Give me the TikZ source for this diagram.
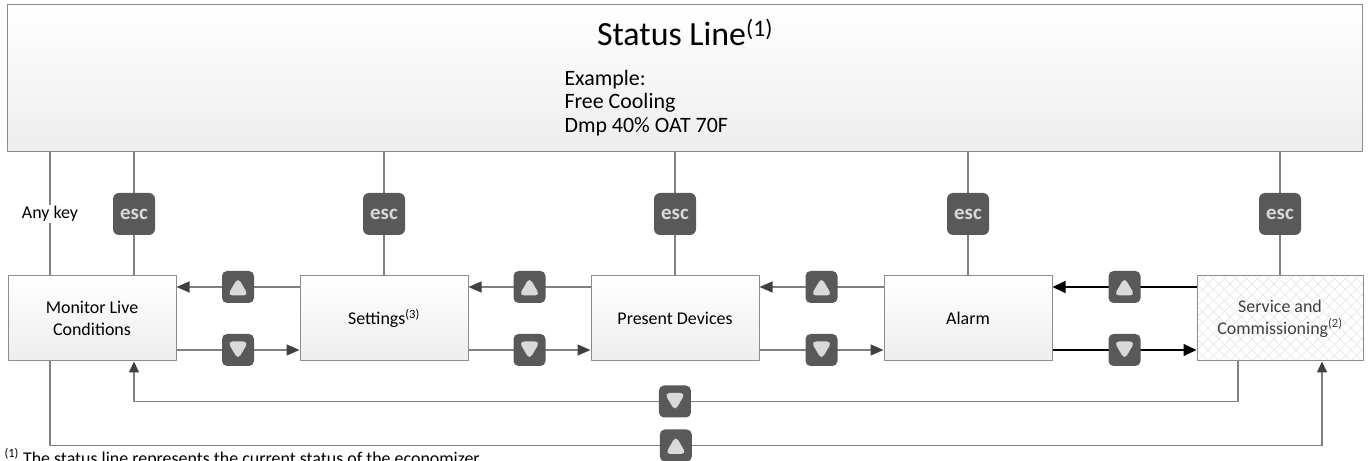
\documentclass[tikz,border=0pt]{standalone}
\usepackage{fontspec}
\setmainfont{Carlito}
\usetikzlibrary{arrows.meta}
\definecolor{btngray}{HTML}{595959}
\definecolor{btnlight}{HTML}{D9D9D9}
\definecolor{linegray}{HTML}{808080}
\definecolor{boxline}{HTML}{8C8C8C}
\definecolor{tipgray}{HTML}{404040}
\definecolor{boxshade}{HTML}{EDEDED}
\definecolor{hatchgray}{HTML}{E4E4E4}
\definecolor{svctext}{HTML}{404040}
\tikzset{
  boxbase/.style={draw=boxline, line width=1bp, minimum width=168bp, minimum height=85bp,
    inner sep=0pt, align=center, font=\fontsize{18}{22}\selectfont},
  menubox/.style={boxbase, top color=white, bottom color=boxshade},
  svcbox/.style={boxbase, fill=white, minimum width=166bp, text=svctext,
    path picture={
      \foreach \k in {-8,...,23} {
        \draw[hatchgray, line width=0.6bp] ([xshift=\k*11bp]path picture bounding box.south west) -- ++(95bp,95bp);
        \draw[hatchgray, line width=0.6bp] ([xshift=\k*11bp]path picture bounding box.south west) -- ++(-95bp,95bp);
      }}},
  keybtn/.style={fill=btngray, rounded corners=6bp, minimum width=42bp, minimum height=42bp,
    inner sep=0pt, text=btnlight, font=\fontsize{21}{21}\bfseries\selectfont},
  arrowbtn/.style={fill=btngray, rounded corners=5bp, minimum width=32bp, minimum height=32bp, inner sep=0pt},
  upbtn/.style={arrowbtn, path picture={
      \fill[btnlight] ([shift={(-10.5bp,-8.5bp)}]path picture bounding box.center) -- ++(21bp,0) -- ++(-10.5bp,18bp) -- cycle;}},
  dnbtn/.style={arrowbtn, path picture={
      \fill[btnlight] ([shift={(-10.5bp,8.5bp)}]path picture bounding box.center) -- ++(21bp,0) -- ++(-10.5bp,-18bp) -- cycle;}},
  link/.style={draw=linegray, line width=1.5bp},
  flow/.style={link, -{Triangle[length=13bp,width=11bp,color=tipgray]}},
  darkflow/.style={draw=black, line width=1.2bp, -{Triangle[length=13bp,width=12bp]}},
  loopflow/.style={link, -{Triangle[length=11bp,width=10bp,color=tipgray]}},
}
\begin{document}
\begin{tikzpicture}[line join=bevel]
\useasboundingbox (0bp,0bp) rectangle (1370bp,461bp);
%%
\node (status) at (684.5bp,382.5bp) [draw=boxline,line width=1bp,top color=white,bottom color=boxshade,
  minimum width=1355bp,minimum height=147bp,inner sep=0pt] {};
\node (title) at (685bp,429bp) [font=\fontsize{34}{38}\selectfont] {Status Line\textsuperscript{(1)}};
\node (example) at (561bp,358bp) [anchor=west,align=left,font=\fontsize{22}{23.5}\selectfont]
  {Example:\\Free Cooling\\Dmp 40\% OAT 70F};
%
\node (mon) at (92bp,142.5bp) [menubox] {Monitor Live\\Conditions};
\node (set) at (384bp,142.5bp) [menubox] {Settings\textsuperscript{(3)}};
\node (pres) at (675bp,142.5bp) [menubox] {Present Devices};
\node (alarm) at (968bp,142.5bp) [menubox] {Alarm};
\node (svc) at (1280bp,142.5bp) [svcbox] {Service and\\Commissioning\textsuperscript{(2)}};
%
\draw [link] ([xshift=-42bp]mon.north) -- node [fill=white,inner sep=1bp,font=\fontsize{18}{22}\selectfont] (anykey) {Any key} ([xshift=-42bp]mon.north |- status.south);
\draw [link] ([xshift=42bp]mon.north) -- node [keybtn] (esc1) {esc} ([xshift=42bp]mon.north |- status.south);
\draw [link] (set.north) -- node [keybtn] (esc2) {esc} (set.north |- status.south);
\draw [link] (pres.north) -- node [keybtn] (esc3) {esc} (pres.north |- status.south);
\draw [link] (alarm.north) -- node [keybtn] (esc4) {esc} (alarm.north |- status.south);
\draw [link] (svc.north) -- node [keybtn] (esc5) {esc} (svc.north |- status.south);
%
\draw [flow] ([yshift=31.5bp]set.west) -- node [upbtn] (up1) {} ([yshift=31.5bp]mon.east);
\draw [flow] ([yshift=-31.5bp]mon.east) -- node [dnbtn] (dn1) {} ([yshift=-31.5bp]set.west);
\draw [flow] ([yshift=31.5bp]pres.west) -- node [upbtn] (up2) {} ([yshift=31.5bp]set.east);
\draw [flow] ([yshift=-31.5bp]set.east) -- node [dnbtn] (dn2) {} ([yshift=-31.5bp]pres.west);
\draw [flow] ([yshift=31.5bp]alarm.west) -- node [upbtn] (up3) {} ([yshift=31.5bp]pres.east);
\draw [flow] ([yshift=-31.5bp]pres.east) -- node [dnbtn] (dn3) {} ([yshift=-31.5bp]alarm.west);
\draw [darkflow] ([yshift=31.5bp]svc.west) -- node [upbtn] (up4) {} ([yshift=31.5bp]alarm.east);
\draw [darkflow] ([yshift=-31.5bp]alarm.east) -- node [dnbtn] (dn4) {} ([yshift=-31.5bp]svc.west);
%
\draw [loopflow] ([xshift=-42bp]svc.south) -- ++(0,-40bp) -| node [pos=0.255,dnbtn] (dn5) {} ([xshift=42bp]mon.south);
\draw [loopflow] ([xshift=-42bp]mon.south) -- ++(0,-84bp) -| node [pos=0.246,upbtn] (up5) {} ([xshift=42bp]svc.south);
%
\node (note) at (1bp,-3bp) [anchor=base west,font=\fontsize{18}{20}\selectfont] {\textsuperscript{(1)} The status line represents the current status of the economizer.};
%
\end{tikzpicture}
\end{document}
